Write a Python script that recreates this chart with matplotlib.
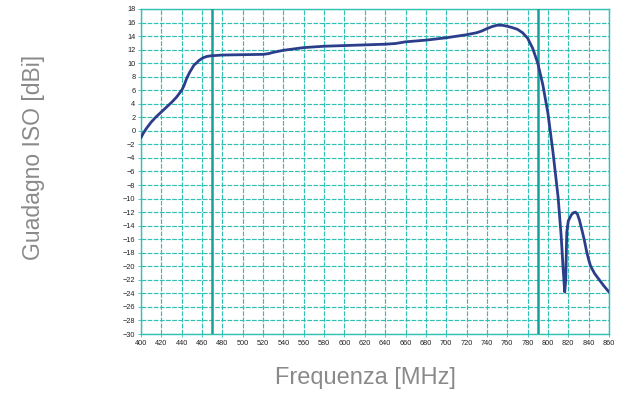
import matplotlib
matplotlib.use("Agg")
import matplotlib.pyplot as plt

freq = [400, 402, 405, 410, 415, 420, 425, 430, 435, 440, 442, 445, 448, 450, 452, 455,
        457, 460, 462, 465, 467, 470, 480, 500, 520, 525, 530, 540, 550, 560, 580, 600,
        620, 640, 650, 660, 680, 700, 720, 730, 735, 740, 745, 750, 755, 760, 765, 770,
        775, 780, 785, 790, 795, 800, 805, 810, 813, 815, 816.5, 817.5, 818.5, 820, 823,
        825, 827, 829, 831, 834, 836, 838, 840, 842, 846, 850, 855, 860]
gain = [-1.0, -0.4, 0.3, 1.3, 2.1, 2.8, 3.5, 4.2, 5.0, 6.0, 6.6, 7.8, 8.7, 9.2, 9.7, 10.1,
        10.4, 10.7, 10.85, 11.0, 11.05, 11.1, 11.2, 11.25, 11.3, 11.4, 11.6, 11.9, 12.1, 12.3, 12.5, 12.6,
        12.7, 12.8, 12.9, 13.15, 13.4, 13.75, 14.2, 14.5, 14.75, 15.1, 15.4, 15.6, 15.6, 15.45, 15.25, 15.0,
        14.5, 13.7, 12.2, 10.0, 6.8, 2.6, -3.2, -9.8, -15.5, -20.5, -23.8, -22.0, -15.0, -13.3, -12.4,
        -12.1, -12.0, -12.3, -13.2, -15.0, -16.3, -17.8, -19.0, -20.0, -21.1, -21.9, -22.9, -23.8]
band_edges = [470, 790]
xticks = list(range(400, 861, 20))
yticks = list(range(-30, 19, 2))

teal = "#30c0b4"
fig = plt.figure(figsize=(6.37, 3.98), dpi=100)
ax = fig.add_axes([0.2214, 0.1608, 0.7346, 0.8166])
ax.set_xlim(400, 860)
ax.set_ylim(-30, 18)
ax.set_xticks(xticks)
ax.set_yticks(yticks)
ax.grid(True, color=teal, linestyle=(0, (4, 1.2)), linewidth=0.85, snap=True)
for s in ax.spines.values():
    s.set_color(teal)
    s.set_linewidth(1.0)
ax.tick_params(axis="both", labelsize=5.3, labelcolor="#222222", color=teal,
               length=2, width=0.6, pad=2)
for x in band_edges:
    ax.axvline(x, color="#17a09a", linewidth=1.8, zorder=3)
ax.plot(freq, gain, color="#2b3e8c", linewidth=2.0, zorder=4,
        solid_capstyle="round", solid_joinstyle="round")
fig.text(0.052, 0.605, "Guadagno ISO [dBi]", rotation=90, ha="center", va="center",
         fontsize=16.5, color="#8a8a8a", family="Liberation Sans")
fig.text(0.573, 0.05, "Frequenza [MHz]", ha="center", va="center",
         fontsize=17, color="#8a8a8a", family="Liberation Sans")
for lab in ax.get_xticklabels() + ax.get_yticklabels():
    lab.set_family("Liberation Sans")
fig.savefig("out.png", dpi=100, facecolor="white")
